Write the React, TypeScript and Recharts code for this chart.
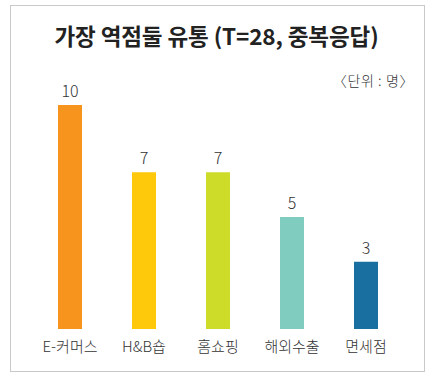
import React from 'react';
import { BarChart, Bar, XAxis, YAxis, Cell, LabelList } from 'recharts';

const categories = ['E-커머스', 'H&B숍', '홈쇼핑', '해외수출', '면세점'];
const counts = [10, 7, 7, 5, 3];
const barColors = ['#F7941E', '#FEC80B', '#CDDC29', '#80CDBF', '#186FA0'];

const data = categories.map((name, i) => ({ name, value: counts[i] }));

const FONT = '"Noto Sans CJK KR", "Noto Sans", sans-serif';

const App: React.FC = () => {
  return (
    <div style={{ position: 'absolute', left: 0, top: 0, width: 433, height: 380, background: '#fff', fontFamily: FONT }}>
      <div
        style={{
          position: 'absolute',
          left: 10,
          top: 5,
          width: 413,
          height: 365,
          border: '1px solid #c9c9c9',
        }}
      />
      <div
        style={{
          position: 'absolute',
          left: 0,
          width: 433,
          top: 20,
          textAlign: 'center',
          fontSize: 22.5,
          fontWeight: 700,
          color: '#222',
          lineHeight: '30px',
          letterSpacing: -0.1,
        }}
      >
        가장 역점둘 유통 (T=28, 중복응답)
      </div>
      <div
        style={{
          position: 'absolute',
          right: 19,
          top: 70,
          fontSize: 14,
          fontWeight: 300,
          color: '#333',
          lineHeight: '20px',
          letterSpacing: 0.6,
        }}
      >
        〈단위 : 명〉
      </div>
      <div style={{ position: 'absolute', left: 0, top: 0 }}>
        <BarChart width={433} height={380} data={data} margin={{ top: 105, right: 30, left: 33, bottom: 21 }}>
          <XAxis
            dataKey="name"
            axisLine={false}
            tickLine={false}
            tickSize={0}
            tickMargin={12}
            height={30}
            interval={0}
            tick={{ fontSize: 15, fill: '#333', fontFamily: FONT, fontWeight: 300 }}
          />
          <YAxis hide domain={[0, 10]} />
          <Bar dataKey="value" barSize={24} isAnimationActive={false}>
            {data.map((d, i) => (
              <Cell key={d.name} fill={barColors[i]} />
            ))}
            <LabelList
              dataKey="value"
              position="top"
              offset={8}
              fill="#333"
              fontSize={16}
              fontWeight={300}
              fontFamily={FONT}
            />
          </Bar>
        </BarChart>
      </div>
    </div>
  );
};

export default App;
